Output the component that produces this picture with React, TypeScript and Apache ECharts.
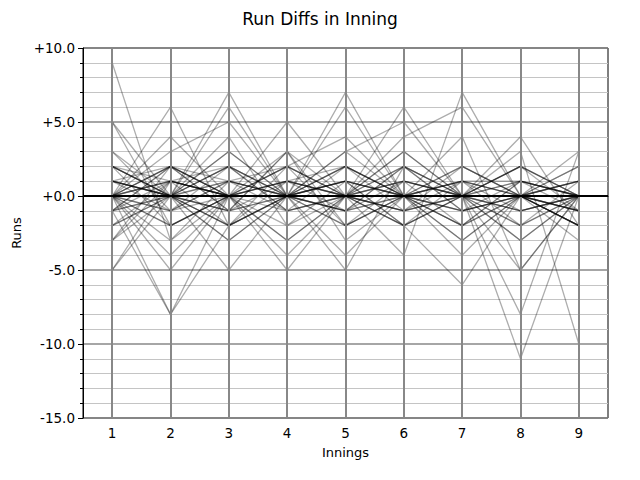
import React, { useEffect, useRef } from 'react';
import * as echarts from 'echarts';

// innings on the x axis
const innings = [1, 2, 3, 4, 5, 6, 7, 8, 9];

// run difference per inning, one row per game
const gameRunDiffs: number[][] = [
  [9, -3, 0, 1, 0, 0, -1, 0, 0],
  [5, 0, -1, 0, 2, 0, 0, 1, 0],
  [5, -2, 0, 0, 1, 0, 0, 0, 0],
  [-5, 1, 0, 0, -1, 0, 0, 0, -3],
  [-5, 0, 2, -1, 0, 1, 0, -2, 0],
  [0, 6, -2, 0, 0, 1, 0, 0, -1],
  [-1, -8, 0, 2, 0, 0, 0, 0, 0],
  [0, -8, -2, 0, 1, 0, 0, 1, 0],
  [0, 4, 0, -3, 0, 0, 2, 0, 0],
  [2, 0, 3, 0, -2, 0, 0, 0, -2],
  [0, 0, 7, 0, 0, -1, 0, 0, 0],
  [1, 0, 6, 0, 0, 0, -1, 0, 2],
  [0, 3, 5, 0, 0, 0, 0, -1, 0],
  [0, 0, 4, -2, 0, 3, 0, 0, 0],
  [3, 0, -5, 0, 1, 0, 0, 0, -1],
  [0, -5, 0, 5, 0, 0, 0, 2, 0],
  [-2, 0, 0, -5, 0, 0, 0, 0, 1],
  [0, 2, 0, -4, 0, 0, -3, 0, 0],
  [-3, 0, 0, 3, -3, 0, 0, 0, 0],
  [0, -4, 0, 0, 7, 0, 0, -3, 0],
  [0, 0, -3, 0, 6, 0, 0, 0, 0],
  [1, 0, 0, 2, 4, 0, -2, 0, 0],
  [0, 0, 0, 0, -5, 2, 0, 0, 0],
  [0, 1, 0, 0, -4, 0, 0, 0, -2],
  [0, 0, 2, 0, 0, 6, 0, -5, 0],
  [0, -2, 0, 0, 3, 5, 0, 0, 0],
  [0, 0, 0, 0, 0, -4, 7, 0, 0],
  [0, 0, -2, 0, 0, 4, 6, 0, 0],
  [2, 0, 0, 0, 0, -2, -6, 0, 0],
  [0, 0, 0, 1, 0, 0, 4, -5, 0],
  [0, 2, 0, 0, 0, 0, -4, 0, -2],
  [0, 0, 1, 0, 0, 0, 0, -8, 3],
  [0, 0, 0, 0, 2, 0, 0, -11, 0],
  [-1, 0, 0, 0, 0, 0, 0, 4, -2],
  [0, 0, 0, 0, 0, 3, 0, 3, -10],
  [0, 1, 0, 0, 0, 0, 0, 0, 3],
  [-2, 0, 3, 0, 0, -2, 0, 0, 0],
  [1, 0, 0, -3, 0, 2, 0, 0, -2],
  [0, -1, 0, 0, 0, 0, 2, 0, 1],
  [0, 0, -1, 3, 0, 0, 1, 0, 0],
  [-1, 2, 0, 0, -2, 0, 0, 2, 0],
  [2, 0, -3, 0, 0, -1, 0, 0, -1],
  [0, -2, 0, 1, 0, 0, -2, 0, 2],
  [0, 0, 2, 0, -1, 0, 0, -3, 0],
  [-3, 1, 0, 0, 0, 0, 0, 0, 0],
  [0, 0, 0, 0, 3, 0, -3, 0, 0],
  [0, 0, -2, 0, 0, 0, 0, 2, 0],
  [1, 0, 0, 0, 0, -1, 0, 0, -2],
  [2, 0, 1, -1, 0, 2, -1, 0, 1],
  [-1, 1, 0, 2, -2, 0, 1, -1, 0],
  [1, -1, 2, 0, 1, -2, 0, 2, -1],
  [0, 2, -1, 1, 0, 1, -2, 1, 0],
  [-2, 1, 0, -1, 2, 0, 1, 0, -1],
  [3, -1, 1, 0, -1, 2, 0, -1, 0],
  [0, -1, 1, 2, 0, -1, 2, 0, -2],
  [1, 2, 0, -2, 1, 0, -1, 1, 0],
  [-1, 0, -2, 1, -1, 1, 0, -2, 1],
  [2, -2, 0, 1, 2, -1, 1, 0, 0],
  [0, 1, 2, -1, 0, 0, -2, 1, -1],
  [-3, 2, -1, 0, 1, -2, 0, 0, 1],
  [1, 0, -1, 3, -2, 1, 0, -1, 0],
  [0, -3, 1, 0, 2, 0, 1, -2, 0],
  [-1, 2, 1, 0, -1, 2, -1, 0, -1],
  [2, 1, -2, 2, 0, -2, 1, 1, 0],
];

const font = 'DejaVu Sans';

const App: React.FC = () => {
  const chartRef = useRef<HTMLDivElement>(null);

  useEffect(() => {
    const chart = echarts.init(chartRef.current!, null, { renderer: 'svg' });

    const gameSeries: any[] = gameRunDiffs.map((row) => ({
      type: 'line',
      data: row.map((v, i) => [innings[i], v]),
      symbol: 'none',
      silent: true,
      z: 3,
      lineStyle: { color: 'rgba(0,0,0,0.32)', width: 1.3 },
    }));

    const option: echarts.EChartsOption = {
      animation: false,
      title: {
        text: 'Run Diffs in Inning',
        left: 'center',
        top: 5,
        textStyle: { fontFamily: font, fontSize: 17, fontWeight: 'normal', color: '#000' },
      },
      grid: {
        left: 83,
        right: 32,
        top: 48,
        bottom: 62,
        show: true,
        borderColor: '#000',
        borderWidth: 1,
        backgroundColor: 'transparent',
      },
      xAxis: {
        type: 'value',
        min: 0.5,
        max: 9.5,
        name: 'Innings',
        nameLocation: 'middle',
        nameGap: 28,
        nameTextStyle: { fontFamily: font, fontSize: 13, color: '#000' },
        axisLine: { show: true, lineStyle: { color: '#000', width: 1 } },
        axisTick: { show: true, customValues: innings, length: 5, lineStyle: { color: '#000' } },
        axisLabel: { customValues: innings, margin: 8, fontFamily: font, fontSize: 13.5, color: '#000' },
        splitLine: { show: false },
      },
      yAxis: {
        type: 'value',
        min: -15,
        max: 10,
        interval: 5,
        name: 'Runs',
        nameLocation: 'middle',
        nameGap: 58,
        nameTextStyle: { fontFamily: font, fontSize: 13, color: '#000' },
        axisLine: { show: true, lineStyle: { color: '#000', width: 1 } },
        axisTick: { show: true, length: 5, lineStyle: { color: '#000' } },
        minorTick: { show: true, splitNumber: 5, length: 3, lineStyle: { color: '#000' } },
        axisLabel: {
          margin: 8,
          fontFamily: font,
          fontSize: 13.5,
          color: '#000',
          formatter: (v: number) => (v >= 0 ? '+' : '') + v.toFixed(1),
        },
        splitLine: { show: true, lineStyle: { color: '#888', width: 1.5 } },
        minorSplitLine: { show: true, lineStyle: { color: '#c4c4c4', width: 1 } },
      },
      series: [
        {
          type: 'line',
          data: [],
          silent: true,
          z: 1,
          markLine: {
            silent: true,
            symbol: 'none',
            label: { show: false },
            lineStyle: { color: '#888', width: 2, type: 'solid' },
            data: innings.map((x) => ({ xAxis: x })),
          },
        },
        ...gameSeries,
        {
          type: 'line',
          data: [],
          silent: true,
          z: 5,
          markLine: {
            silent: true,
            symbol: 'none',
            label: { show: false },
            lineStyle: { color: '#000', width: 2.2, type: 'solid' },
            data: [{ yAxis: 0 }],
          },
        },
      ],
    };

    chart.setOption(option);
    return () => {
      chart.dispose();
    };
  }, []);

  return (
    <div
      ref={chartRef}
      style={{ position: 'fixed', left: 0, top: 0, width: '640px', height: '480px', background: '#fff' }}
    />
  );
};

export default App;
